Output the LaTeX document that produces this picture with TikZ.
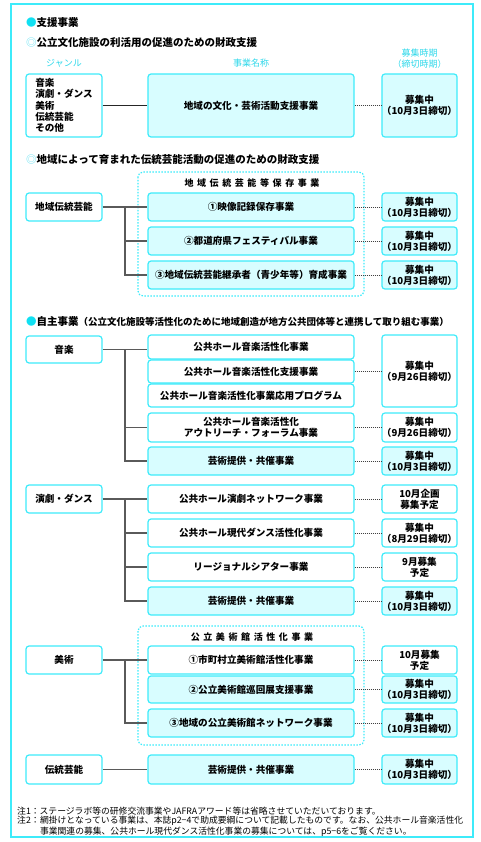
\documentclass[tikz,border=0pt]{standalone}
\usepackage{fontspec}
\setmainfont{Noto Sans CJK JP}
\usetikzlibrary{positioning, calc}
\definecolor{boxcyan}{HTML}{3EEBFA}
\definecolor{shadecyan}{HTML}{D8FDFF}
\definecolor{headcyan}{HTML}{2FD8EA}
\definecolor{bulletcyan}{HTML}{10E0F2}
\definecolor{ringcyan}{HTML}{7FE6F4}
\definecolor{treegray}{HTML}{5A5A5A}
\newcommand\boxfont{\fontsize{9.6pt}{11pt}\selectfont\bfseries}
\newcommand\headfont{\fontsize{10.5pt}{12pt}\selectfont\bfseries}
\newcommand\subfont{\fontsize{9.5pt}{11pt}\selectfont\bfseries}
\newcommand\colfont{\fontsize{9pt}{11pt}\selectfont}
\newcommand\spacedfont{\fontsize{9pt}{11pt}\selectfont\bfseries\addfontfeature{LetterSpace=40}}
\newcommand\notefont{\fontsize{8.8pt}{9.3pt}\selectfont}
\tikzset{
    genre/.style={
        rectangle, rounded corners=3pt, draw=boxcyan, line width=1.2pt, fill=white,
        minimum width=76pt, minimum height=28pt, inner sep=0pt, align=center, font=\boxfont
    },
    event/.style={genre, minimum width=206pt},
    eventshade/.style={event, fill=shadecyan},
    date/.style={genre, minimum width=75pt},
    dateshade/.style={date, fill=shadecyan},
    tree/.style={draw=treegray, line width=1.3pt},
    plainline/.style={draw=black!85, line width=0.9pt},
    dotline/.style={draw=black!75, line width=0.8pt, dash pattern=on 1pt off 1pt},
    groupbox/.style={draw=boxcyan, line width=1.2pt, dash pattern=on 1.5pt off 1.5pt, rounded corners=5pt},
    grouptitle/.style={font=\spacedfont, inner sep=0pt},
    heading/.style={anchor=west, inner sep=0pt, font=\headfont},
    colhead/.style={font=\colfont, text=headcyan, align=center, inner sep=0pt},
    note/.style={anchor=north west, font=\notefont, align=left, inner sep=0pt}
}

\begin{document}
\begin{tikzpicture}[x=1pt, y=-1pt]
\useasboundingbox (0,0) rectangle (480,842);
\draw [draw=boxcyan, line width=1.2pt] (11,4) rectangle (473,837);

% === HEADINGS ===
\node (support) [heading] at (26,23)  {{\color{bulletcyan}●}支援事業};
\node (facil)   [heading] at (26,43)  {{\color{ringcyan}◎}公立文化施設の利活用の促進のための財政支援};
\node (colG)    [colhead] at (64,63)  {ジャンル};
\node (colE)    [colhead] at (251,63) {事業名称};
\node (colD)    [colhead] at (419.5,58.5) {募集時期\\（締切時期）};

% === FACILITY SUPPORT ===
\node (genreA) [genre, minimum height=63pt, align=left, font=\boxfont\linespread{1.03}\selectfont] at (64,105.5)
    {音楽\\演劇・ダンス\\美術\\伝統芸能\\その他};
\node (eventA) [eventshade, minimum height=63pt] at (251,105.5) {地域の文化・芸術活動支援事業};
\node (dateA)  [dateshade, minimum height=63pt] at (419.5,105.5) {募集中\\（10月3日締切）};

\draw [plainline] (genreA) -- (eventA);
\draw [dotline] (eventA) -- (dateA);

% === LOCAL TRADITION ===
\node (local) [heading] at (26,160) {{\color{ringcyan}◎}地域によって育まれた伝統芸能活動の促進のための財政支援};
\draw [groupbox] (138,172) rectangle (364,296);
\node (keepT) [grouptitle] at (252,183) {地域伝統芸能等保存事業};

\node (genreB) [genre] at (64,207) {地域伝統芸能};
\node (trad1)  [eventshade] at (251,207) {①映像記録保存事業};
\node (trad2)  [eventshade] at (251,241) {②都道府県フェスティバル事業};
\node (trad3)  [eventshade] at (251,275) {③地域伝統芸能継承者（青少年等）育成事業};
\node (dateT1) [dateshade] at (419.5,207) {募集中\\（10月3日締切）};
\node (dateT2) [dateshade] at (419.5,241) {募集中\\（10月3日締切）};
\node (dateT3) [dateshade] at (419.5,275) {募集中\\（10月3日締切）};

\coordinate (jB) at (125,207);
\draw [tree] (genreB.east) -- (trad1.west);
\draw [tree] (jB) |- (trad2.west);
\draw [tree] (jB) |- (trad3.west);
\draw [dotline] (trad1) -- (dateT1);
\draw [dotline] (trad2) -- (dateT2);
\draw [dotline] (trad3) -- (dateT3);

% === OWN PROGRAMS: MUSIC ===
\node (own) [heading] at (26,321) {{\color{bulletcyan}●}自主事業{\subfont （公立文化施設等活性化のために地域創造が地方公共団体等と連携して取り組む事業）}};

\node (genreC) [genre, minimum height=27pt] at (64,349.5) {音楽};
\node (music1) [event, minimum height=24pt] at (251,347) {公共ホール音楽活性化事業};
\node (music2) [event, minimum height=23pt] at (251,371.5) {公共ホール音楽活性化支援事業};
\node (music3) [event, minimum height=23pt] at (251,395.5) {公共ホール音楽活性化事業応用プログラム};
\node (music4) [event, minimum height=29pt] at (251,427.5) {公共ホール音楽活性化\\アウトリーチ・フォーラム事業};
\node (music5) [eventshade] at (251,461) {芸術提供・共催事業};
\node (dateM1) [date, minimum height=72pt] at (419.5,371) {募集中\\（9月26日締切）};
\node (dateM2) [date, minimum height=29pt] at (419.5,427.5) {募集中\\（9月26日締切）};
\node (dateM3) [dateshade] at (419.5,461) {募集中\\（10月3日締切）};

\coordinate (jC) at (125,349);
\draw [tree] (genreC.east) -- (music1.west |- genreC.east);
\draw [tree] (jC) |- (music4.west);
\draw [tree] (jC) |- (music5.west);
\draw [dotline] (music2) -- (dateM1.west |- music2);
\draw [dotline] (music4) -- (dateM2);
\draw [dotline] (music5) -- (dateM3);

% === OWN PROGRAMS: DRAMA AND DANCE ===
\node (genreD) [genre] at (64,499) {演劇・ダンス};
\node (drama1) [event] at (251,499) {公共ホール演劇ネットワーク事業};
\node (drama2) [event] at (251,533) {公共ホール現代ダンス活性化事業};
\node (drama3) [event] at (251,567) {リージョナルシアター事業};
\node (drama4) [eventshade] at (251,601) {芸術提供・共催事業};
\node (dateD1) [date] at (419.5,499) {10月企画\\募集予定};
\node (dateD2) [date] at (419.5,533) {募集中\\（8月29日締切）};
\node (dateD3) [date] at (419.5,567) {9月募集\\予定};
\node (dateD4) [dateshade] at (419.5,601) {募集中\\（10月3日締切）};

\coordinate (jD) at (125,499);
\draw [tree] (genreD.east) -- (drama1.west);
\draw [tree] (jD) |- (drama2.west);
\draw [tree] (jD) |- (drama3.west);
\draw [tree] (jD) |- (drama4.west);
\draw [dotline] (drama1) -- (dateD1);
\draw [dotline] (drama2) -- (dateD2);
\draw [dotline] (drama3) -- (dateD3);
\draw [dotline] (drama4) -- (dateD4);

% === OWN PROGRAMS: ART MUSEUMS ===
\draw [groupbox] (138,626) rectangle (364,745);
\node (museT) [grouptitle] at (252,637) {公立美術館活性化事業};

\node (genreE) [genre] at (64,660) {美術};
\node (art1)   [event] at (251,660) {①市町村立美術館活性化事業};
\node (art2)   [eventshade, minimum height=27pt] at (251,689.5) {②公立美術館巡回展支援事業};
\node (art3)   [eventshade] at (251,723) {③地域の公立美術館ネットワーク事業};
\node (dateE1) [date] at (419.5,660) {10月募集\\予定};
\node (dateE2) [dateshade, minimum height=27pt] at (419.5,689.5) {募集中\\（10月3日締切）};
\node (dateE3) [dateshade] at (419.5,723) {募集中\\（10月3日締切）};

\coordinate (jE) at (125,660);
\draw [tree] (genreE.east) -- (art1.west);
\draw [tree] (jE) |- (art3.west);
\draw [dotline] (art1) -- (dateE1);
\draw [dotline] (art2) -- (dateE2);
\draw [dotline] (art3) -- (dateE3);

% === OWN PROGRAMS: TRADITIONAL ARTS ===
\node (genreF) [genre, minimum height=29pt] at (64,769.5) {伝統芸能};
\node (tradF)  [eventshade, minimum height=29pt] at (251,769.5) {芸術提供・共催事業};
\node (dateF)  [dateshade, minimum height=29pt] at (419.5,769.5) {募集中\\（10月3日締切）};
\draw [tree] (genreF) -- (tradF);
\draw [dotline] (tradF) -- (dateF);

% === NOTES ===
\node (note1) [note] at (17,807) {注1：ステージラボ等の研修交流事業やJAFRAアワード等は省略させていただいております。};
\node (note2) [note] at (17,816.3) {注2：};
\node (note2t) [note, anchor=north west] at (note2.north east)
    {網掛けとなっている事業は、本誌p2−4で助成要綱について記載したものです。なお、公共ホール音楽活性化\\
     事業関連の募集、公共ホール現代ダンス活性化事業の募集については、p5−6をご覧ください。};

\end{tikzpicture}
\end{document}
